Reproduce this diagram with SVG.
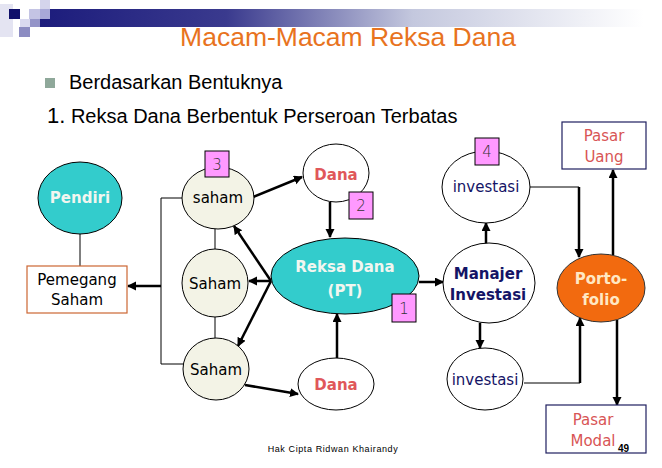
<svg xmlns="http://www.w3.org/2000/svg" width="662" height="468" viewBox="0 0 662 468">
<style>
.title{font-family:"Liberation Sans",Arial,sans-serif;font-size:26.5px;fill:#E8731E}
.head{font-family:"Liberation Sans",Arial,sans-serif;font-size:20px;fill:#000}
.n{font-family:"DejaVu Sans",Verdana,sans-serif;font-size:15px;text-anchor:middle}
.b{font-weight:bold}
.teal{fill:#33CCCC;stroke:#000;stroke-width:1}
.beige{fill:#F3F3E6;stroke:#000;stroke-width:1}
.white{fill:#fff;stroke:#000;stroke-width:1}
.pink{fill:#FF99FF;stroke:#000;stroke-width:1}
.num{font-family:"DejaVu Sans",Verdana,sans-serif;font-size:15px;font-weight:200;text-anchor:middle;fill:#333}
.thin{fill:none;stroke:#000;stroke-width:1}
.ar{fill:none;stroke:#000;stroke-width:2.5;marker-end:url(#ah)}
.red{fill:#E0575A}
.navy{fill:#141466}
.pr{fill:#D85555}
</style>
<defs>
<linearGradient id="bar" x1="0" y1="0" x2="1" y2="0">
<stop offset="0" stop-color="#1c1c7c"/>
<stop offset="0.3" stop-color="#3a3a8e"/>
<stop offset="0.6" stop-color="#c4c8de"/>
<stop offset="0.97" stop-color="#ffffff"/>
</linearGradient>
<marker id="ah" markerUnits="userSpaceOnUse" markerWidth="10" markerHeight="10" refX="8" refY="4.5" orient="auto">
<path d="M0,0 L9,4.5 L0,9 Z" fill="#000"/>
</marker>
</defs>

<g id="header">
<rect x="40" y="9" width="622" height="18" fill="url(#bar)"/>
<rect x="0" y="4" width="13" height="33" fill="#e4e4f2"/>
<rect x="9" y="9" width="11" height="10" fill="#10106a"/>
<rect x="29" y="9" width="11" height="10" fill="#c4c4e4"/>
<rect x="40" y="0" width="10" height="9" fill="#d4d4ec"/>
<rect x="40" y="9" width="10" height="10" fill="#a8a8d8"/>
<rect x="20" y="19" width="10" height="8" fill="#dadaf0"/>
<rect x="30" y="19" width="10" height="8" fill="#9494c8"/>
<rect x="19" y="27" width="11" height="10" fill="#8c8cc2"/>
<text class="title" x="348" y="46" text-anchor="middle">Macam-Macam Reksa Dana</text>
<rect x="45" y="78" width="10" height="10" fill="#8FA89A"/>
<text class="head" x="69" y="89">Berdasarkan Bentuknya</text>
<text class="head" x="47" y="123"><tspan font-size="22px">1.</tspan> Reksa Dana Berbentuk Perseroan Terbatas</text>
</g>

<g id="connectors">
<line class="thin" x1="80" y1="234" x2="80" y2="266"/>
<polyline class="thin" points="182,198 161,198 161,364 183,364"/>
<line class="thin" x1="215" y1="229" x2="215" y2="249"/>
<line class="thin" x1="215" y1="317" x2="215" y2="338"/>
<line class="ar" x1="161" y1="286" x2="128" y2="286"/>
<line class="ar" x1="253" y1="197" x2="302" y2="177"/>
<line class="ar" x1="330" y1="202" x2="330" y2="237"/>
<line class="ar" x1="271" y1="281" x2="234" y2="226"/>
<line class="ar" x1="271" y1="281" x2="249" y2="281"/>
<line class="ar" x1="271" y1="281" x2="238" y2="346"/>
<line class="ar" x1="245" y1="385" x2="298" y2="394"/>
<line class="ar" x1="337" y1="358" x2="337" y2="314"/>
<line class="ar" x1="419" y1="282" x2="443" y2="282"/>
<line class="ar" x1="486" y1="244" x2="486" y2="223"/>
<line class="ar" x1="480" y1="323" x2="480" y2="348"/>
<polyline class="thin" points="529,187 579,187 579,200"/>
<line class="ar" x1="579" y1="187" x2="579" y2="257"/>
<polyline class="thin" points="524,383 580,383"/>
<line class="ar" x1="580" y1="383" x2="580" y2="318"/>
<line class="ar" x1="613" y1="255" x2="613" y2="170"/>
<line class="ar" x1="617" y1="320" x2="617" y2="405"/>
</g>

<g id="pendiri">
<ellipse class="teal" cx="80" cy="198" rx="42" ry="36"/>
<text class="n b" x="80" y="203" fill="#F2F6F0">Pendiri</text>
</g>
<g id="pemegang-saham">
<rect x="27" y="266" width="100" height="47" fill="#fff" stroke="#CC6633" stroke-width="1.2"/>
<text class="n" x="77" y="285" fill="#000">Pemegang</text>
<text class="n" x="77" y="305" fill="#000">Saham</text>
</g>
<g id="saham-1">
<ellipse class="beige" cx="218" cy="198" rx="36" ry="31"/>
<text class="n" x="218" y="203" fill="#000">saham</text>
</g>
<g id="badge-3">
<rect class="pink" x="205" y="151" width="24" height="26"/>
<text class="num" x="217" y="170">3</text>
</g>
<g id="saham-2">
<ellipse class="beige" cx="215" cy="283" rx="33" ry="34"/>
<text class="n" x="215" y="289" fill="#000">Saham</text>
</g>
<g id="saham-3">
<ellipse class="beige" cx="216" cy="369" rx="33" ry="31"/>
<text class="n" x="216" y="375" fill="#000">Saham</text>
</g>
<g id="dana-top">
<ellipse class="white" cx="336" cy="173" rx="33" ry="29"/>
<text class="n b red" x="336" y="180">Dana</text>
</g>
<g id="badge-2">
<rect class="pink" x="349" y="192" width="24" height="27"/>
<text class="num" x="361" y="211">2</text>
</g>
<g id="reksa-dana">
<ellipse class="teal" cx="345" cy="276" rx="74" ry="38"/>
<text class="n b" x="345" y="272" font-size="17.5" fill="#F2F6F0">Reksa Dana</text>
<text class="n b" x="345" y="296" font-size="17.5" fill="#F2F6F0">(PT)</text>
</g>
<g id="badge-1">
<rect class="pink" x="392" y="294" width="24" height="28"/>
<text class="num" x="404" y="314">1</text>
</g>
<g id="dana-bottom">
<ellipse class="white" cx="336" cy="384" rx="38" ry="26"/>
<text class="n b red" x="336" y="390">Dana</text>
</g>
<g id="manajer">
<ellipse class="white" cx="489" cy="283" rx="46" ry="40"/>
<text class="n b navy" x="488" y="279">Manajer</text>
<text class="n b navy" x="488" y="300">Investasi</text>
</g>
<g id="investasi-top">
<ellipse class="white" cx="486" cy="187" rx="44" ry="36"/>
<text class="n navy" x="486" y="192" font-size="14.5">investasi</text>
</g>
<g id="badge-4">
<rect class="pink" x="475" y="138" width="24" height="27"/>
<text class="num" x="487" y="157">4</text>
</g>
<g id="investasi-bottom">
<ellipse class="white" cx="485" cy="379" rx="38" ry="31"/>
<text class="n navy" x="485" y="385">investasi</text>
</g>
<g id="portofolio">
<ellipse cx="601" cy="288" rx="44" ry="34" fill="#F26A0F" stroke="#333" stroke-width="1"/>
<text class="n b" x="601" y="284" fill="#FFE8C4">Porto-</text>
<text class="n b" x="601" y="305" fill="#FFE8C4">folio</text>
</g>
<g id="pasar-uang">
<rect x="562" y="122" width="84" height="47" fill="#fff" stroke="#1f1f5f" stroke-width="1.2"/>
<text class="n pr" x="604" y="141">Pasar</text>
<text class="n pr" x="604" y="162">Uang</text>
</g>
<g id="pasar-modal">
<rect x="546" y="405" width="100" height="48" fill="#fff" stroke="#1f1f5f" stroke-width="1.2"/>
<text class="n pr" x="593" y="425">Pasar</text>
<text class="n pr" x="593" y="446">Modal</text>
</g>
<g id="footer">
<text x="333" y="452" text-anchor="middle" font-family="Liberation Sans, Arial, sans-serif" font-size="9" letter-spacing="0.6" fill="#000">Hak Cipta Ridwan Khairandy</text>
<text x="618" y="452" font-family="Liberation Sans, Arial, sans-serif" font-size="10" font-weight="bold" fill="#000">49</text>
</g>
</svg>
